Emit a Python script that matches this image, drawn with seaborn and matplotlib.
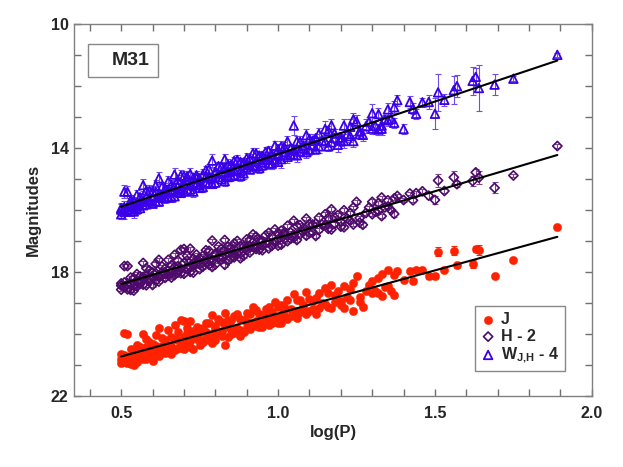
import numpy as np
import pandas as pd
import seaborn as sns
import matplotlib.pyplot as plt
from matplotlib.patches import Rectangle

# Cepheids in M31: log(P) and magnitudes (H shifted by -2, W_JH shifted by -4)
log_p = [
    0.50, 0.50, 0.51, 0.51, 0.52, 0.52, 0.53, 0.53, 0.54, 0.55,
    0.55, 0.56, 0.57, 0.57, 0.58, 0.58, 0.59, 0.60, 0.60, 0.61,
    0.62, 0.62, 0.63, 0.63, 0.64, 0.65, 0.65, 0.66, 0.67, 0.67,
    0.68, 0.69, 0.69, 0.70, 0.70, 0.71, 0.72, 0.72, 0.73, 0.73,
    0.74, 0.75, 0.75, 0.76, 0.77, 0.78, 0.79, 0.79, 0.80, 0.81,
    0.82, 0.83, 0.83, 0.84, 0.85, 0.85, 0.86, 0.87, 0.88, 0.89,
    0.90, 0.90, 0.91, 0.92, 0.93, 0.94, 0.95, 0.96, 0.97, 0.98,
    0.99, 1.00, 1.00, 1.01, 1.02, 1.03, 1.04, 1.05, 1.05, 1.06,
    1.07, 1.08, 1.09, 1.10, 1.11, 1.12, 1.13, 1.14, 1.15, 1.16,
    1.17, 1.18, 1.19, 1.20, 1.21, 1.22, 1.23, 1.24, 1.25, 1.26,
    1.27, 1.29, 1.30, 1.31, 1.32, 1.33, 1.34, 1.35, 1.36, 1.37,
    1.38, 1.40, 1.42, 1.43, 1.44, 1.46, 1.48, 1.50, 1.51, 1.53,
    1.56, 1.57, 1.62, 1.63, 1.64, 1.69, 1.75, 1.89,
    0.50, 0.51, 0.52, 0.53, 0.54, 0.54, 0.55, 0.56, 0.56, 0.57,
    0.58, 0.59, 0.59, 0.60, 0.61, 0.61, 0.62, 0.63, 0.64, 0.64,
    0.65, 0.66, 0.66, 0.67, 0.68, 0.68, 0.69, 0.70, 0.71, 0.71,
    0.72, 0.73, 0.74, 0.74, 0.75, 0.76, 0.77, 0.77, 0.78, 0.78,
    0.79, 0.80, 0.80, 0.81, 0.82, 0.82, 0.83, 0.84, 0.84, 0.85,
    0.86, 0.86, 0.87, 0.88, 0.88, 0.89, 0.90, 0.91, 0.91, 0.92,
    0.93, 0.93, 0.94, 0.95, 0.95, 0.96, 0.97, 0.97, 0.98, 0.99,
    1.00, 1.01, 1.02, 1.02, 1.03, 1.04, 1.05, 1.06, 1.07, 1.08,
    1.09, 1.10, 1.11, 1.12, 1.13, 1.15, 1.16, 1.17, 1.18, 1.20,
    1.21, 1.23, 1.24, 1.26, 1.28, 1.30, 1.32, 1.33, 1.35, 1.37,
]

j_mag = [
    20.80, 20.65, 19.97, 20.87, 19.99, 20.94, 20.72, 20.47, 20.99, 20.71,
    20.36, 20.78, 20.00, 20.55, 20.17, 20.82, 20.60, 20.32, 20.87, 20.04,
    19.81, 20.56, 20.38, 20.13, 20.61, 19.88, 20.38, 20.65, 19.72, 20.17,
    20.44, 19.56, 20.26, 19.59, 20.49, 19.96, 19.58, 20.23, 20.05, 20.50,
    19.77, 20.20, 19.95, 20.27, 19.64, 20.01, 19.38, 20.28, 19.75, 19.98,
    19.60, 19.32, 20.37, 19.79, 19.56, 20.01, 19.83, 19.36, 20.08, 19.55,
    19.77, 19.32, 19.64, 19.12, 19.74, 19.36, 19.78, 19.20, 19.42, 19.65,
    18.97, 19.44, 19.14, 19.66, 19.23, 18.91, 19.43, 18.70, 19.25, 19.47,
    18.89, 19.21, 18.64, 19.26, 18.93, 19.35, 18.67, 19.00, 18.52, 19.14,
    18.41, 18.98, 18.60, 19.08, 18.45, 18.82, 18.54, 19.26, 18.13, 18.81,
    19.13, 18.42, 18.29, 18.62, 18.69, 18.06, 18.48, 17.95, 18.62, 18.75,
    17.97, 18.26, 17.96, 18.28, 17.95, 17.94, 18.14, 18.13, 17.35, 17.95,
    17.31, 17.78, 17.74, 17.27, 17.29, 18.13, 17.61, 16.55,
    20.95, 20.67, 20.79, 20.97, 20.54, 20.79, 20.91, 20.43, 20.63, 20.80,
    20.42, 20.70, 20.25, 20.52, 20.69, 20.39, 20.71, 20.53, 20.21, 20.41,
    20.53, 20.10, 20.40, 20.52, 20.19, 19.94, 20.46, 20.09, 20.31, 19.81,
    20.43, 19.90, 20.17, 20.02, 20.35, 19.82, 20.14, 19.94, 20.21, 19.66,
    20.03, 20.20, 19.85, 19.53, 20.05, 19.90, 19.67, 20.09, 19.54, 19.81,
    19.98, 19.43, 19.81, 19.53, 19.88, 19.95, 19.62, 19.34, 19.84, 19.67,
    19.24, 19.59, 19.76, 19.38, 19.63, 19.50, 19.12, 19.72, 19.30, 19.52,
    19.64, 19.06, 19.43, 19.13, 19.51, 19.18, 19.40, 18.92, 19.29, 19.06,
    19.34, 18.86, 19.18, 18.85, 19.17, 19.02, 18.69, 19.16, 18.73, 18.93,
    19.15, 18.89, 18.36, 18.96, 18.60, 18.69, 18.19, 18.76, 18.45, 18.10,
]

h_mag = [
    18.44, 18.37, 17.81, 18.49, 17.81, 18.56, 18.38, 18.18, 18.60, 18.32,
    18.07, 18.39, 17.71, 18.16, 17.88, 18.43, 18.20, 18.02, 18.42, 17.74,
    17.61, 18.16, 18.02, 17.82, 18.19, 17.61, 17.96, 18.18, 17.45, 17.85,
    18.02, 17.29, 17.89, 17.26, 18.06, 17.63, 17.25, 17.85, 17.72, 18.02,
    17.44, 17.76, 17.56, 17.83, 17.30, 17.62, 16.99, 17.84, 17.41, 17.53,
    17.25, 16.97, 17.77, 17.39, 17.21, 17.56, 17.43, 17.00, 17.56, 17.18,
    17.30, 16.95, 17.17, 16.79, 17.26, 16.98, 17.30, 16.82, 17.04, 17.16,
    16.63, 16.95, 16.75, 17.12, 16.79, 16.51, 16.93, 16.35, 16.80, 16.97,
    16.49, 16.71, 16.28, 16.75, 16.47, 16.84, 16.25, 16.47, 16.14, 16.61,
    15.98, 16.45, 16.17, 16.54, 16.01, 16.28, 16.10, 16.47, 15.74, 16.26,
    16.48, 15.92, 15.74, 16.06, 16.03, 15.60, 15.92, 15.69, 16.01, 16.13,
    15.55, 15.68, 15.47, 15.69, 15.46, 15.40, 15.54, 15.68, 15.05, 15.39,
    14.95, 15.17, 15.07, 14.79, 14.96, 15.29, 14.89, 13.94,
    18.57, 18.34, 18.41, 18.58, 18.20, 18.45, 18.47, 18.14, 18.29, 18.41,
    18.13, 18.30, 17.95, 18.17, 18.29, 18.04, 18.31, 18.12, 17.89, 18.04,
    18.11, 17.78, 18.03, 18.10, 17.82, 17.62, 18.04, 17.71, 17.88, 17.48,
    18.00, 17.57, 17.74, 17.64, 17.91, 17.48, 17.70, 17.60, 17.77, 17.32,
    17.64, 17.76, 17.46, 17.18, 17.60, 17.50, 17.32, 17.64, 17.19, 17.36,
    17.53, 17.08, 17.40, 17.16, 17.41, 17.48, 17.20, 16.97, 17.37, 17.19,
    16.86, 17.16, 17.28, 17.00, 17.15, 17.07, 16.74, 17.24, 16.86, 17.03,
    17.15, 16.67, 16.94, 16.74, 17.01, 16.73, 16.90, 16.52, 16.79, 16.61,
    16.83, 16.45, 16.72, 16.44, 16.65, 16.49, 16.26, 16.63, 16.25, 16.39,
    16.56, 16.35, 15.92, 16.41, 16.10, 16.14, 15.78, 16.20, 15.89, 15.63,
]

w_mag = [
    15.99, 15.94, 15.41, 16.06, 15.42, 15.97, 15.79, 15.69, 16.05, 15.87,
    15.52, 15.94, 15.20, 15.70, 15.37, 15.82, 15.68, 15.40, 15.80, 15.22,
    14.98, 15.58, 15.50, 15.25, 15.62, 15.08, 15.38, 15.60, 14.86, 15.26,
    15.43, 14.90, 15.35, 14.91, 15.41, 15.03, 14.84, 15.19, 15.11, 15.41,
    14.88, 15.19, 14.99, 15.26, 14.72, 14.94, 14.41, 15.16, 14.77, 14.94,
    14.61, 14.37, 15.07, 14.79, 14.55, 14.90, 14.72, 14.39, 14.90, 14.47,
    14.63, 14.33, 14.55, 14.17, 14.58, 14.25, 14.56, 14.13, 14.30, 14.51,
    13.93, 14.25, 14.05, 14.36, 14.13, 13.79, 14.21, 13.28, 14.08, 14.24,
    13.81, 14.02, 13.59, 14.06, 13.77, 14.04, 13.55, 13.77, 13.39, 13.95,
    13.27, 13.68, 13.90, 13.77, 13.28, 13.55, 13.32, 13.78, 13.15, 13.46,
    13.58, 13.16, 12.88, 13.29, 13.41, 13.38, 13.09, 12.76, 13.07, 13.19,
    12.46, 13.39, 12.52, 12.74, 12.90, 12.53, 12.52, 12.90, 12.21, 12.45,
    12.14, 12.01, 11.84, 11.71, 12.07, 11.96, 11.77, 11.00,
    16.14, 15.91, 16.02, 16.04, 15.70, 15.90, 15.97, 15.59, 15.74, 15.85,
    15.57, 15.73, 15.38, 15.60, 15.72, 15.42, 15.73, 15.60, 15.32, 15.42,
    15.58, 15.20, 15.40, 15.56, 15.23, 15.03, 15.45, 15.16, 15.33, 14.93,
    15.34, 14.96, 15.18, 14.98, 15.29, 14.86, 15.12, 14.92, 15.14, 14.69,
    14.96, 15.12, 14.82, 14.59, 15.01, 14.81, 14.67, 14.94, 14.54, 14.75,
    14.87, 14.42, 14.69, 14.45, 14.75, 14.82, 14.48, 14.35, 14.70, 14.57,
    14.18, 14.43, 14.65, 14.26, 14.46, 14.38, 14.10, 14.50, 14.21, 14.38,
    14.45, 13.96, 14.23, 13.98, 14.29, 14.01, 14.23, 13.79, 14.11, 13.92,
    14.14, 13.71, 13.92, 13.69, 13.95, 13.79, 13.45, 13.82, 13.53, 13.67,
    13.78, 13.62, 13.08, 13.56, 13.30, 13.38, 12.91, 13.28, 13.11, 12.69,
]

w_err = [
    0.18, 0.15, 0.20, 0.22, 0.18, 0.15, 0.12, 0.16, 0.20, 0.14,
    0.15, 0.12, 0.20, 0.15, 0.18, 0.12, 0.14, 0.16, 0.12, 0.18,
    0.20, 0.12, 0.15, 0.14, 0.16, 0.18, 0.12, 0.15, 0.20, 0.14,
    0.12, 0.18, 0.14, 0.16, 0.12, 0.15, 0.18, 0.14, 0.12, 0.16,
    0.15, 0.12, 0.14, 0.16, 0.15, 0.12, 0.20, 0.14, 0.13, 0.12,
    0.16, 0.18, 0.15, 0.12, 0.14, 0.16, 0.12, 0.15, 0.18, 0.13,
    0.14, 0.16, 0.12, 0.18, 0.15, 0.14, 0.16, 0.15, 0.12, 0.18,
    0.15, 0.14, 0.16, 0.28, 0.14, 0.18, 0.15, 0.32, 0.16, 0.20,
    0.18, 0.14, 0.20, 0.16, 0.22, 0.15, 0.18, 0.14, 0.25, 0.16,
    0.20, 0.15, 0.22, 0.18, 0.20, 0.14, 0.25, 0.18, 0.22, 0.16,
    0.20, 0.15, 0.30, 0.16, 0.18, 0.22, 0.15, 0.20, 0.14, 0.16,
    0.18, 0.15, 0.20, 0.18, 0.16, 0.15, 0.22, 0.50, 0.60, 0.20,
    0.45, 0.35, 0.45, 0.30, 0.75, 0.35, 0.08, 0.06,
    0.15, 0.20, 0.14, 0.16, 0.12, 0.18, 0.15, 0.14, 0.20, 0.12,
    0.16, 0.14, 0.18, 0.12, 0.15, 0.16, 0.14, 0.12, 0.18, 0.15,
    0.13, 0.16, 0.14, 0.12, 0.18, 0.15, 0.14, 0.16, 0.12, 0.18,
    0.14, 0.15, 0.12, 0.16, 0.14, 0.18, 0.12, 0.15, 0.14, 0.16,
    0.12, 0.15, 0.18, 0.14, 0.12, 0.16, 0.15, 0.14, 0.18, 0.12,
    0.15, 0.14, 0.16, 0.12, 0.15, 0.18, 0.14, 0.16, 0.12, 0.15,
    0.18, 0.14, 0.15, 0.12, 0.16, 0.14, 0.15, 0.18, 0.14, 0.16,
    0.15, 0.18, 0.14, 0.16, 0.20, 0.15, 0.14, 0.18, 0.16, 0.15,
    0.20, 0.16, 0.18, 0.15, 0.22, 0.18, 0.16, 0.20, 0.15, 0.18,
    0.22, 0.18, 0.20, 0.16, 0.22, 0.18, 0.20, 0.24, 0.18, 0.20,
]

h_err = [0.06] * 100 + [
    0.08, 0.06, 0.10, 0.06, 0.08, 0.06, 0.06, 0.08, 0.06, 0.10,
    0.06, 0.08, 0.06, 0.06, 0.08, 0.06, 0.10, 0.12, 0.20, 0.08,
    0.20, 0.10, 0.15, 0.12, 0.20, 0.18, 0.06, 0.05,
] + [0.06] * 100

j_err = [0.05] * 100 + [
    0.06, 0.05, 0.08, 0.05, 0.06, 0.05, 0.05, 0.06, 0.05, 0.08,
    0.05, 0.06, 0.05, 0.05, 0.06, 0.05, 0.08, 0.10, 0.15, 0.06,
    0.15, 0.08, 0.12, 0.10, 0.15, 0.05, 0.05, 0.05,
] + [0.05] * 100

df = pd.DataFrame({"logP": log_p, "J": j_mag, "H": h_mag, "W": w_mag,
                   "eJ": j_err, "eH": h_err, "eW": w_err})

red = "#ff2200"
purple = "#4e0a6a"
blue = "#3a00e8"

sns.set_style("ticks")
plt.rcParams["font.family"] = ["Liberation Sans", "DejaVu Sans"]
plt.rcParams["font.weight"] = "bold"
plt.rcParams["mathtext.fontset"] = "custom"
plt.rcParams["mathtext.rm"] = "Liberation Sans:bold"
plt.rcParams["mathtext.bf"] = "Liberation Sans:bold"

fig = plt.figure(figsize=(6.23, 4.67), dpi=100)
ax = fig.add_axes([0.119, 0.152, 0.831, 0.797])

# error bars first
ax.errorbar(df["logP"], df["W"], yerr=df["eW"], fmt="none", ecolor="#6f4cf2",
            elinewidth=0.8, capsize=2.5, capthick=0.8, zorder=1)
ax.errorbar(df["logP"], df["H"], yerr=df["eH"], fmt="none", ecolor="#7a4a90",
            elinewidth=0.8, capsize=2.5, capthick=0.8, zorder=1)
ax.errorbar(df["logP"], df["J"], yerr=df["eJ"], fmt="none", ecolor=red,
            elinewidth=0.8, capsize=2.5, capthick=0.8, zorder=1)

sns.scatterplot(data=df, x="logP", y="J", ax=ax, marker="o", s=36,
                fc=red, ec=red, linewidth=0.3, label="J", zorder=2)
sns.scatterplot(data=df, x="logP", y="H", ax=ax, marker="D", s=22,
                fc="none", ec=purple, linewidth=1.2, label="H - 2", zorder=2)
sns.scatterplot(data=df, x="logP", y="W", ax=ax, marker="^", s=38,
                fc="none", ec=blue, linewidth=1.3,
                label=r"W$_{\mathbf{J{,}H}}$ - 4", zorder=2)

# least-squares PL relations
for col in ["J", "H", "W"]:
    sns.regplot(data=df, x="logP", y=col, ax=ax, scatter=False, ci=None,
                color="black", line_kws={"lw": 1.5, "zorder": 3})

ax.set_xlim(0.35, 2.0)
ax.set_ylim(22, 10)
ax.set_xticks([0.5, 1.0, 1.5, 2.0])
ax.set_xticks(np.arange(0.4, 2.0, 0.1), minor=True)
ax.set_yticks([10, 14, 18, 22])
ax.set_yticks(np.arange(11, 22, 1), minor=True)
ax.set_xticklabels(["0.5", "1.0", "1.5", "2.0"])
ax.tick_params(which="both", direction="in", top=True, right=True,
               length=5, width=1.0, color="#707070", labelsize=11.5, pad=4)
ax.tick_params(axis="x", which="both", pad=7)
for side in ax.spines.values():
    side.set_color("#808080")
    side.set_linewidth(1.0)

ax.set_xlabel("log(P)", fontsize=12, fontweight="bold", labelpad=3)
ax.set_ylabel("Magnitudes", fontsize=12, fontweight="bold", labelpad=7)

# M31 label box
ax.add_patch(Rectangle((0.027, 0.858), 0.135, 0.088, transform=ax.transAxes,
                       fill=False, ec="#888888", lw=1.0, zorder=4))
ax.text(0.11, 0.902, "M31", transform=ax.transAxes, ha="center", va="center",
        fontsize=14, fontweight="bold")

leg = ax.legend(loc="lower right", bbox_to_anchor=(0.963, 0.046),
                fancybox=False, edgecolor="#888888", framealpha=1,
                handletextpad=0.3, handlelength=1.0, borderpad=0.35,
                labelspacing=0.12, prop={"weight": "bold", "size": 11.5})
leg.get_frame().set_linewidth(1.0)

fig.savefig("out.png", dpi=100)
